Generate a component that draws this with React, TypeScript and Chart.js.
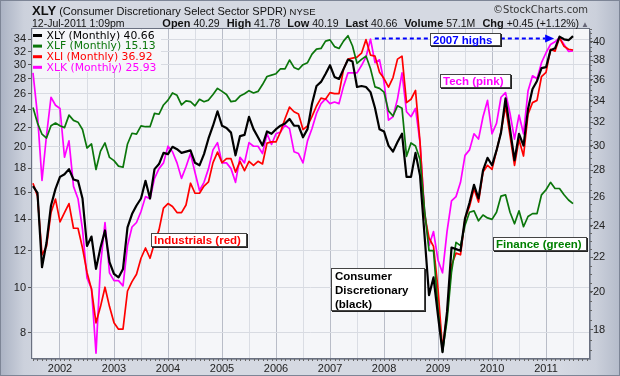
import React, { useEffect, useRef } from 'react';
import { Chart, registerables } from 'chart.js';

Chart.register(...registerables);

// Monthly closes, Jul 2001 .. Jul 2011
const START_YEAR = 2001;
const START_MONTH = 7;

const XLY = [
  26.8, 26.3, 21.4, 22.9, 25.4, 26.6, 27.5, 27.7, 28.1, 27.3,
  27.2, 25.9, 22.7, 23.3, 21.3, 22.6, 23.7, 21.7, 21.0, 20.8,
  21.3, 23.9, 24.8, 25.4, 25.9, 27.2, 25.9, 28.1, 28.5, 29.4,
  29.3, 29.9, 29.7, 29.4, 29.5, 29.6, 28.6, 28.4, 29.3, 30.6,
  31.7, 33.0, 31.7, 31.5, 31.1, 29.2, 30.8, 30.9, 32.5, 31.4,
  30.7, 30.0, 31.2, 31.0, 31.4, 31.7, 31.9, 32.3, 31.7, 31.7,
  30.7, 31.4, 33.7, 35.4, 35.8, 36.6, 37.5, 36.3, 36.1, 37.1,
  38.1, 37.9, 35.3, 35.4, 35.3, 34.8, 33.3, 31.4, 31.2, 30.0,
  29.5, 30.3, 31.0, 27.5, 27.5, 29.4, 27.6, 23.4, 19.8, 20.8,
  18.7, 16.9, 18.9, 22.6, 22.5, 22.4, 24.5, 25.6, 26.9, 25.9,
  28.0, 29.0, 28.4, 29.6, 31.1, 34.2, 31.4, 28.8, 31.0, 30.0,
  33.2, 35.1, 35.9, 37.2, 37.3, 39.1, 39.3, 40.6, 40.3, 40.2,
  40.66,
];

const XLF = [
  24.3, 22.5, 21.3, 20.9, 22.2, 22.5, 22.2, 22.0, 23.4, 22.8,
  22.6, 21.8, 19.9, 20.3, 17.9, 19.6, 20.4, 19.0, 18.7, 18.2,
  18.1, 20.3, 21.4, 21.3, 22.2, 22.1, 22.1, 23.6, 23.5, 24.6,
  25.2, 26.1, 25.8, 24.6, 25.1, 25.0, 24.5, 25.3, 25.0, 25.2,
  25.9, 26.7, 26.3, 25.9, 25.0, 25.1, 25.7, 26.0, 26.4, 26.1,
  26.3, 27.2, 28.3, 28.5, 28.7, 29.4, 29.4, 30.7, 29.6, 29.3,
  30.0, 30.3, 31.6, 32.4, 32.5, 33.7, 33.9, 32.8, 32.5, 33.7,
  34.6, 32.9, 30.2, 30.8, 31.3, 29.4, 26.9, 26.7, 26.2, 23.9,
  23.3, 24.5, 24.2, 19.1, 20.4, 20.1, 18.8, 14.7, 12.0, 12.0,
  9.0, 7.3, 8.5, 10.8, 12.5, 12.3, 13.6, 14.5, 14.6, 13.9,
  14.3, 14.1, 14.0, 14.5, 15.7, 15.8, 14.5, 13.7, 14.6, 13.5,
  14.2, 14.4, 14.4, 15.8, 16.2, 16.8, 16.3, 16.3, 15.8, 15.4,
  15.13,
];

const XLI = [
  25.5, 24.6, 20.9, 21.4, 23.5, 24.4, 22.9, 23.5, 24.1, 22.5,
  22.5, 21.3, 19.9, 19.0, 17.3, 18.1, 19.1, 18.1, 17.3, 17.0,
  17.0, 18.9, 19.4, 19.8, 20.7, 21.3, 20.7, 21.6, 22.4, 23.8,
  24.1, 23.9, 23.5, 23.5, 24.0, 25.5, 24.8, 24.8, 25.3, 25.6,
  27.0, 27.8, 27.0, 27.3, 27.3, 26.3, 27.1, 26.4, 27.1, 26.8,
  27.1, 26.9, 28.5, 28.6, 28.6, 29.4, 30.5, 31.5, 31.1, 30.9,
  29.6, 29.9, 30.7, 31.6, 32.3, 32.2, 32.8, 32.7, 32.7, 35.0,
  36.0, 36.1, 36.2, 36.6, 38.0, 36.4, 36.3, 34.7, 34.1, 33.3,
  34.2, 36.0, 36.3, 31.9, 32.2, 33.0, 28.6, 23.4, 21.9, 21.4,
  19.0, 16.1, 17.7, 20.3, 21.0, 20.9, 23.1, 23.9, 25.1, 24.2,
  26.3, 26.8, 26.5, 27.9, 29.4, 31.6, 29.1, 26.8, 28.8, 27.5,
  30.9, 31.9, 32.1, 34.3, 34.7, 37.0, 36.8, 38.2, 37.3, 37.0,
  36.92,
];

const XLK = [
  24.4, 21.7, 18.1, 20.5, 22.8, 22.3, 22.1, 19.3, 20.2, 17.8,
  17.2, 15.8, 13.8, 13.4, 11.2, 14.3, 16.1, 14.0, 13.7, 13.7,
  13.5, 15.1, 15.9, 16.1, 16.6, 17.3, 17.2, 18.2, 18.7, 19.0,
  19.9, 19.6, 19.0, 18.2, 18.8, 19.5, 18.5, 17.6, 18.0, 18.7,
  19.7, 20.1, 19.0, 19.0, 18.7, 18.0, 19.3, 19.0, 20.1, 19.9,
  19.9, 19.5, 20.6, 20.0, 20.6, 20.7, 21.1, 20.9, 19.6, 19.5,
  19.0, 20.2, 20.9, 21.8, 22.4, 22.7, 22.4, 22.5, 22.4, 23.5,
  24.4, 24.4, 24.4, 24.9, 25.5, 26.8, 25.1, 25.3, 23.8, 21.4,
  21.6, 22.7, 24.4, 21.9, 21.6, 22.1, 20.1, 16.6, 15.1, 15.7,
  14.5, 14.0, 15.7, 17.1, 17.3, 18.0, 19.4, 19.7, 20.6, 20.3,
  21.6, 22.6, 20.6, 21.2, 22.8, 23.1, 21.8, 20.3, 21.7, 20.6,
  23.2, 24.2, 24.0, 25.1, 25.8, 26.4, 26.6, 26.9, 26.4, 25.9,
  25.93,
];

const YEAR_LABELS = [2002, 2003, 2004, 2005, 2006, 2007, 2008, 2009, 2010, 2011];
const LEFT_TICKS = [8, 10, 12, 14, 16, 18, 20, 22, 24, 26, 28, 30, 32, 34];
const RIGHT_TICKS = [18, 20, 22, 24, 26, 28, 30, 32, 34, 36, 38, 40];

// annotation anchors (data units)
const HIGH_LEVEL = 40.4;
const ARROW_FROM = 2007.83;
const ARROW_TO = 2011.15;

const monthX = (i: number) => START_YEAR + (START_MONTH - 1 + i) / 12;

const SERIES = [
  { label: 'XLY (Monthly)', data: XLY, color: '#000000', text: '#000000', axis: 'yXLY', width: 2.2 },
  { label: 'XLF (Monthly)', data: XLF, color: '#0b760b', text: '#0b760b', axis: 'yXLF', width: 1.7 },
  { label: 'XLI (Monthly)', data: XLI, color: '#ff0000', text: '#ff0000', axis: 'yXLI', width: 1.7 },
  { label: 'XLK (Monthly)', data: XLK, color: '#ff00ff', text: '#ff00ff', axis: 'yXLK', width: 1.7 },
];

const FONT = '"Liberation Sans", Arial, sans-serif';

const plotDeco = {
  id: 'plotDeco',
  beforeDraw(chart: any) {
    const { ctx, chartArea: a } = chart;
    ctx.save();
    ctx.fillStyle = 'rgba(60,68,85,0.45)';
    ctx.fillRect(a.left + 2, a.top + 2, a.right - a.left, a.bottom - a.top);
    ctx.fillStyle = '#f5f6f9';
    ctx.fillRect(a.left, a.top, a.right - a.left, a.bottom - a.top);
    ctx.restore();
  },
  beforeDatasetsDraw(chart: any) {
    const { ctx, chartArea: a } = chart;
    ctx.save();
    ctx.fillStyle = '#f5f6f9';
    ctx.fillRect(a.left + 1, a.top + 1, 128, 42);
    ctx.font = '10.8px "DejaVu Sans", Verdana, sans-serif';
    ctx.textBaseline = 'middle';
    SERIES.forEach((s, i) => {
      const y = a.top + 6.5 + i * 10.6;
      ctx.strokeStyle = s.color;
      ctx.lineWidth = 3;
      ctx.beginPath();
      ctx.moveTo(a.left + 1, y);
      ctx.lineTo(a.left + 10, y);
      ctx.stroke();
      ctx.fillStyle = s.text;
      ctx.fillText(`${s.label} ${s.data[s.data.length - 1].toFixed(2)}`, a.left + 14.5, y + 0.5);
    });
    ctx.restore();
  },
  afterDatasetsDraw(chart: any) {
    const { ctx, chartArea: a, scales } = chart;
    const xs = scales.x;
    const yr = scales.yXLY;
    ctx.save();
    // 2007 highs arrow
    const y = yr.getPixelForValue(HIGH_LEVEL);
    const x1 = xs.getPixelForValue(ARROW_FROM);
    const x2 = xs.getPixelForValue(ARROW_TO);
    ctx.strokeStyle = '#0000ff';
    ctx.fillStyle = '#0000ff';
    ctx.lineWidth = 2;
    ctx.setLineDash([4, 3]);
    ctx.beginPath();
    ctx.moveTo(x1, y);
    ctx.lineTo(x2 - 9, y);
    ctx.stroke();
    ctx.setLineDash([]);
    ctx.beginPath();
    ctx.moveTo(x2, y);
    ctx.lineTo(x2 - 9, y - 4);
    ctx.lineTo(x2 - 9, y + 4);
    ctx.closePath();
    ctx.fill();
    // frame
    ctx.strokeStyle = '#6a7080';
    ctx.lineWidth = 1;
    ctx.strokeRect(a.left - 0.5, a.top - 0.5, a.right - a.left + 1, a.bottom - a.top + 1);
    // month minor ticks on x axis
    ctx.strokeStyle = '#666';
    for (let i = -6; i < 130; i++) {
      const x = Math.round(xs.getPixelForValue(monthX(i))) + 0.5;
      if (x < a.left || x > a.right) continue;
      ctx.beginPath();
      ctx.moveTo(x, a.bottom + 1);
      ctx.lineTo(x, a.bottom + 3);
      ctx.stroke();
    }
    // minor ticks on right axis
    for (let v = 17; v <= 41.5; v += 0.5) {
      const yy = Math.round(yr.getPixelForValue(v)) + 0.5;
      if (yy < a.top || yy > a.bottom) continue;
      ctx.beginPath();
      ctx.moveTo(a.right + 1, yy);
      ctx.lineTo(a.right + 3, yy);
      ctx.stroke();
    }
    ctx.restore();
  },
};

function App() {
  const ref = useRef<HTMLCanvasElement | null>(null);

  useEffect(() => {
    if (!ref.current) return;
    const halfYears: number[] = [];
    for (let v = START_YEAR + 0.5; v <= YEAR_LABELS[YEAR_LABELS.length - 1] + 0.5; v += 0.5) halfYears.push(v);

    const chart = new Chart(ref.current, {
      type: 'line',
      data: {
        datasets: SERIES.map((s) => ({
          label: s.label,
          data: s.data.map((v, i) => ({ x: monthX(i), y: v })),
          borderColor: s.color,
          backgroundColor: s.color,
          borderWidth: s.width,
          pointRadius: 0,
          tension: 0,
          yAxisID: s.axis,
          borderJoinStyle: 'round' as const,
        })),
      },
      options: {
        animation: false,
        responsive: false,
        maintainAspectRatio: false,
        layout: { padding: { top: 29, left: 0, right: 0, bottom: 0 } },
        plugins: { legend: { display: false }, tooltip: { enabled: false } },
        scales: {
          x: {
            type: 'linear',
            min: 2001.4815,
            max: 2011.796,
            afterFit: (s: any) => { s.height = 18; },
            afterBuildTicks: (s: any) => { s.ticks = halfYears.map((v) => ({ value: v })); },
            grid: {
              color: (c: any) => (c.tick && Number.isInteger(c.tick.value) ? '#b9bdc8' : '#dadde4'),
              drawTicks: false,
              lineWidth: 1,
            },
            border: { display: false },
            ticks: {
              autoSkip: false,
              maxRotation: 0,
              padding: 4,
              color: '#222',
              font: { size: 11, family: FONT },
              callback: (v: any) => (YEAR_LABELS.includes(Number(v)) ? String(v) : ''),
            },
          },
          yXLF: {
            type: 'logarithmic',
            position: 'left',
            min: 7.07,
            max: 35.77,
            afterFit: (s: any) => { s.width = 32; },
            afterBuildTicks: (s: any) => { s.ticks = LEFT_TICKS.map((v) => ({ value: v })); },
            grid: { color: '#d8dbe2', tickColor: '#555', tickLength: 4, drawTicks: true },
            border: { display: false },
            ticks: {
              autoSkip: false,
              padding: 2,
              color: '#222',
              font: { size: 11, family: FONT },
              callback: (v: any) => String(v),
            },
          },
          yXLY: {
            type: 'logarithmic',
            position: 'right',
            min: 16.63,
            max: 41.47,
            afterFit: (s: any) => { s.width = 31; },
            afterBuildTicks: (s: any) => { s.ticks = RIGHT_TICKS.map((v) => ({ value: v })); },
            grid: { drawOnChartArea: false, tickColor: '#555', tickLength: 4, drawTicks: true },
            border: { display: false },
            ticks: {
              autoSkip: false,
              padding: 0,
              color: '#222',
              font: { size: 11, family: FONT },
              callback: (v: any) => String(v),
            },
          },
          yXLI: { type: 'logarithmic', display: false, min: 15.69, max: 39.14 },
          yXLK: { type: 'logarithmic', display: false, min: 11.05, max: 27.56 },
        },
      } as any,
      plugins: [plotDeco],
    });
    return () => chart.destroy();
  }, []);

  const boxBase: React.CSSProperties = {
    position: 'absolute',
    boxSizing: 'border-box',
    background: '#ffffff',
    border: '1px solid #444',
    boxShadow: '1px 1px 0 #222',
    fontFamily: FONT,
    fontWeight: 'bold',
    fontSize: 11.5,
    lineHeight: '12px',
    paddingLeft: 2,
    whiteSpace: 'nowrap',
  };

  const lbl: React.CSSProperties = { fontWeight: 'bold', fontSize: 11 };
  const val: React.CSSProperties = { fontSize: 10.5, marginRight: 7 };

  return (
    <div
      style={{
        position: 'fixed',
        left: 0,
        top: 0,
        width: 620,
        height: 376,
        overflow: 'hidden',
        background:
          'linear-gradient(to right, #aab2c3 0px, #ccd1dc 24px, #d5d9e2 60px, #d5d9e2 560px, #cbd0db 596px, #b4bbca 620px)',
        boxShadow: 'inset 0 0 0 1px #7d8596',
        fontFamily: FONT,
      }}
    >
      <canvas ref={ref} width={620} height={376} style={{ position: 'absolute', left: 0, top: 0, width: 620, height: 376 }} />

      <div style={{ position: 'absolute', left: 32, top: 4, fontSize: 13, lineHeight: '13px', whiteSpace: 'nowrap', color: '#111' }}>
        <span style={{ fontWeight: 'bold', fontSize: 13 }}>XLY</span>
        <span style={{ fontSize: 11 }}> (Consumer Discretionary Select Sector SPDR) </span>
        <span style={{ fontSize: 9.5 }}>NYSE</span>
      </div>
      <div style={{ position: 'absolute', right: 32, top: 4, fontSize: 10, lineHeight: '12px', color: '#333', fontFamily: '"DejaVu Sans", Verdana, sans-serif', whiteSpace: 'nowrap' }}>
        ©StockCharts.com
      </div>
      <div style={{ position: 'absolute', left: 32, top: 17, fontSize: 10.5, lineHeight: '12px', color: '#111', whiteSpace: 'nowrap' }}>
        12-Jul-2011 1:09pm
      </div>
      <div style={{ position: 'absolute', right: 31, top: 17, fontSize: 10.5, lineHeight: '12px', color: '#111', whiteSpace: 'nowrap' }}>
        <span style={lbl}>Open</span> <span style={val}>40.29</span>
        <span style={lbl}>High</span> <span style={val}>41.78</span>
        <span style={lbl}>Low</span> <span style={val}>40.19</span>
        <span style={lbl}>Last</span> <span style={val}>40.66</span>
        <span style={lbl}>Volume</span> <span style={val}>57.1M</span>
        <span style={lbl}>Chg</span> <span style={{ fontSize: 10.5 }}>+0.45 (+1.12%)</span>
        <span style={{ fontSize: 8, color: '#667', marginLeft: 2 }}>▲</span>
      </div>

      <div style={{ ...boxBase, left: 430, top: 33, width: 71, height: 13, color: '#0000ff' }}>2007 highs</div>
      <div style={{ ...boxBase, left: 440, top: 74, width: 71, height: 14, color: '#ff00ff' }}>Tech (pink)</div>
      <div style={{ ...boxBase, left: 151, top: 233, width: 96, height: 14, color: '#ff0000' }}>Industrials (red)</div>
      <div style={{ ...boxBase, left: 493, top: 237, width: 94, height: 14, color: '#008000' }}>Finance (green)</div>
      <div style={{ ...boxBase, left: 331, top: 268, width: 94, height: 43, color: '#000000', lineHeight: '14px', paddingLeft: 3 }}>
        Consumer
        <br />
        Discretionary
        <br />
        (black)
      </div>
    </div>
  );
}

export default App;
